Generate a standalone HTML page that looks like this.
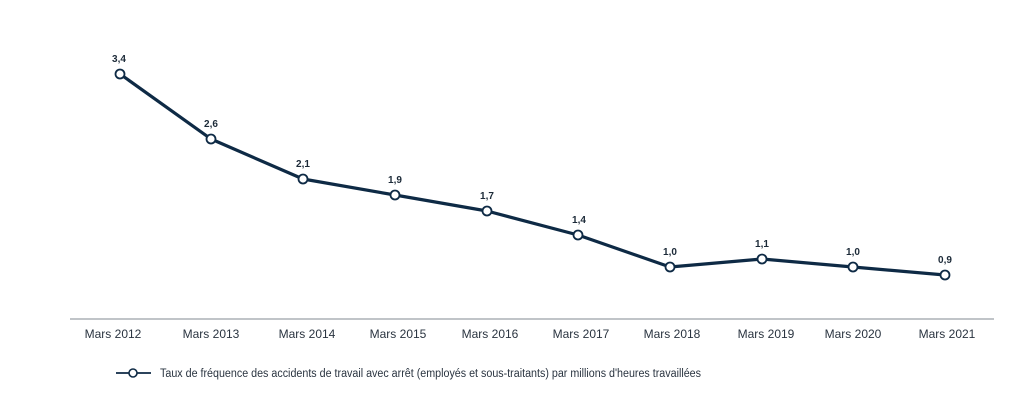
<!DOCTYPE html>
<html><head><meta charset="utf-8"><style>html,body{margin:0;padding:0;background:#fff;width:1024px;height:412px;overflow:hidden}</style></head>
<body>
<svg width="1024" height="412" viewBox="0 0 1024 412" xmlns="http://www.w3.org/2000/svg" font-family="Liberation Sans, sans-serif">
<line x1="70" y1="319" x2="994" y2="319" stroke="#9aa1a8" stroke-width="1.3"/>
<g fill="#2a3440" font-size="12" text-anchor="middle">
<text x="113" y="338">Mars 2012</text><text x="211" y="338">Mars 2013</text><text x="307" y="338">Mars 2014</text><text x="398" y="338">Mars 2015</text><text x="490" y="338">Mars 2016</text><text x="581" y="338">Mars 2017</text><text x="672" y="338">Mars 2018</text><text x="766" y="338">Mars 2019</text><text x="853" y="338">Mars 2020</text><text x="947" y="338">Mars 2021</text>
</g>
<polyline points="120,74 211,139 303,179 395,195 487,211 578,235 670,267 762,259 853,267 945,275" fill="none" stroke="#0e2a45" stroke-width="3.2" stroke-linejoin="round"/>
<g fill="#fff" stroke="#0e2a45" stroke-width="1.8">
<circle cx="120" cy="74" r="4.5"/><circle cx="211" cy="139" r="4.5"/><circle cx="303" cy="179" r="4.5"/><circle cx="395" cy="195" r="4.5"/><circle cx="487" cy="211" r="4.5"/><circle cx="578" cy="235" r="4.5"/><circle cx="670" cy="267" r="4.5"/><circle cx="762" cy="259" r="4.5"/><circle cx="853" cy="267" r="4.5"/><circle cx="945" cy="275" r="4.5"/>
</g>
<g fill="#1c2a38" font-size="10" font-weight="bold" text-anchor="middle">
<text x="119" y="62">3,4</text><text x="211" y="127">2,6</text><text x="303" y="167">2,1</text><text x="395" y="183">1,9</text><text x="487" y="199">1,7</text><text x="579" y="223">1,4</text><text x="670" y="255">1,0</text><text x="762" y="247">1,1</text><text x="853" y="255">1,0</text><text x="945" y="263">0,9</text>
</g>
<line x1="116" y1="373" x2="151" y2="373" stroke="#0e2a45" stroke-width="1.8"/>
<circle cx="133" cy="373" r="4" fill="#fff" stroke="#0e2a45" stroke-width="1.6"/>
<text x="160" y="377" font-size="11.5" fill="#2a3440" textLength="541" lengthAdjust="spacingAndGlyphs">Taux de fréquence des accidents de travail avec arrêt (employés et sous-traitants) par millions d'heures travaillées</text>
</svg>
</body></html>
